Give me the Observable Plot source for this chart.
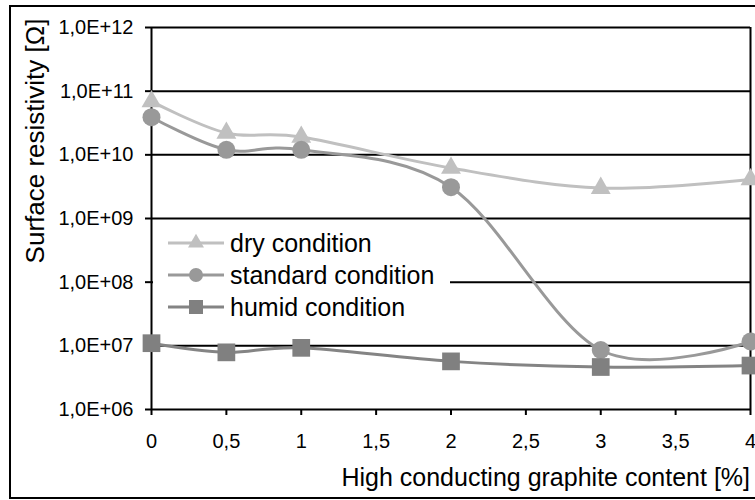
<!DOCTYPE html>
<html><head><meta charset="utf-8">
<script src="https://cdn.jsdelivr.net/npm/d3@7"></script>
<script src="https://cdn.jsdelivr.net/npm/@observablehq/plot@0.6"></script>
<style>
body{margin:0;background:#fff}
#wrap{position:relative;width:755px;height:500px;overflow:hidden;background:#fff}
#wrap svg{position:absolute;left:0;top:0}
#border{position:absolute;left:9px;top:5px;width:800px;height:494px;border:2px solid #000;box-sizing:border-box;pointer-events:none}
</style>
</head><body>
<div id="wrap"><div id="border"></div></div>
<script>
const xValues = [0, 0.5, 1, 2, 3, 4];
const dry = [6.9e10, 2.2e10, 1.9e10, 6.2e9, 3.0e9, 4.1e9];
const standard = [3.9e10, 1.2e10, 1.2e10, 3.1e9, 8.6e6, 1.17e7];
const humid = [1.1e7, 7.9e6, 9.3e6, 5.7e6, 4.65e6, 4.9e6];
const seriesNames = ["dry condition", "standard condition", "humid condition"];
const seriesColors = ["#c0c0c0", "#999999", "#848484"];
const markerColors = ["#c0c0c0", "#999999", "#808080"];
const seriesSymbols = ["triangle", "circle", "square"];
const yTicks = [1e6, 1e7, 1e8, 1e9, 1e10, 1e11, 1e12];
const yTickLabels = ["1,0E+06", "1,0E+07", "1,0E+08", "1,0E+09", "1,0E+10", "1,0E+11", "1,0E+12"];
const xTicks = [0, 0.5, 1, 1.5, 2, 2.5, 3, 3.5, 4];
const xTickLabels = ["0", "0,5", "1", "1,5", "2", "2,5", "3", "3,5", "4"];
const xTitle = "High conducting graphite content [%]";
const yTitle = "Surface resistivity [Ω]";

const seriesValues = [dry, standard, humid];
const tables = seriesValues.map((vals, k) => xValues.map((x, i) => ({x, v: vals[i], s: seriesNames[k]})));
const symbolR = {triangle: 7.4, circle: 9, square: 10};

const marks = [
  Plot.ruleY(yTicks, {stroke: "#000", strokeWidth: 2}),
  Plot.ruleX([0, 4], {stroke: "#000", strokeWidth: 2})
];
tables.forEach((t, k) => {
  marks.push(Plot.line(t, {x: "x", y: "v", curve: "cardinal", stroke: seriesColors[k], strokeWidth: 3}));
  marks.push(Plot.dot(t, {x: "x", y: "v", symbol: () => seriesSymbols[k], r: symbolR[seriesSymbols[k]], fill: markerColors[k], stroke: "none"}));
});

const plot = Plot.plot({
  width: 755, height: 500,
  marginLeft: 151, marginRight: 5, marginTop: 27, marginBottom: 91,
  style: {fontFamily: "'Liberation Sans', Arial, sans-serif", fontSize: "20px", color: "#000", background: "transparent", overflow: "visible"},
  symbol: {type: "identity"},
  x: {domain: [0, 4], ticks: xTicks, tickFormat: d => xTickLabels[xTicks.indexOf(d)], tickSize: 6, tickPadding: 18, label: null},
  y: {type: "log", domain: [1e6, 1e12], ticks: yTicks, tickFormat: d => yTickLabels[yTicks.indexOf(d)], tickSize: 6, tickPadding: 12, label: null},
  marks
});

const svg = d3.select(plot);
svg.selectAll("[aria-label='x-axis tick'], [aria-label='y-axis tick']").attr("stroke-width", 2);

svg.append("text")
  .attr("transform", "translate(35,141) rotate(-90)")
  .attr("text-anchor", "middle").attr("dy", "0.35em")
  .attr("font-size", 26).attr("fill", "#000")
  .text(yTitle);
svg.append("text")
  .attr("x", 750).attr("y", 486)
  .attr("text-anchor", "end")
  .attr("font-size", 25).attr("fill", "#000")
  .text(xTitle);

// legend
const lg = svg.append("g").attr("text-anchor", "start");
lg.append("rect").attr("x", 153).attr("y", 221).attr("width", 297).attr("height", 100).attr("fill", "#fff");
const legendSizes = {triangle: [d3.symbolTriangle, 110], circle: [d3.symbolCircle, 154], square: [d3.symbolSquare, 196]};
seriesNames.forEach((name, k) => {
  const cy = 243 + k * 32;
  lg.append("line").attr("x1", 168).attr("x2", 224).attr("y1", cy).attr("y2", cy)
    .attr("stroke", seriesColors[k]).attr("stroke-width", 3);
  const [sym, size] = legendSizes[seriesSymbols[k]];
  lg.append("path").attr("d", d3.symbol(sym, size)()).attr("transform", `translate(196,${cy})`).attr("fill", markerColors[k]);
  lg.append("text").attr("x", 230).attr("y", cy).attr("dy", "0.35em")
    .attr("text-anchor", "start")
    .attr("font-size", 25).attr("fill", "#000").text(name);
});

document.getElementById("wrap").appendChild(plot);
</script>
</body></html>
